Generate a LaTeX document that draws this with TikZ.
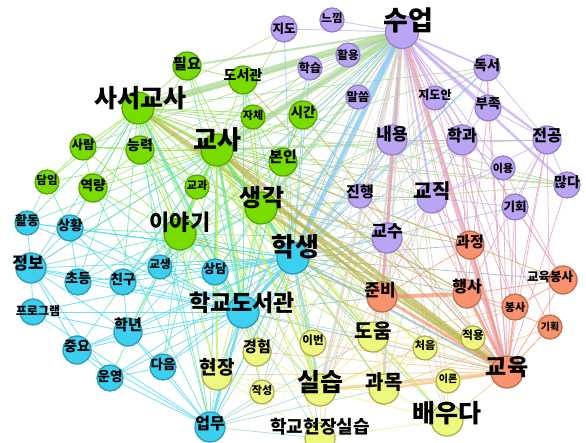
\documentclass[tikz,border=0pt]{standalone}
\usepackage{fontspec}
\setmainfont{Noto Sans CJK KR}
\pgfdeclarelayer{back}
\pgfdeclarelayer{bg}
\pgfsetlayers{back,bg,main}
\definecolor{fP}{HTML}{BBA4F2}\definecolor{bP}{HTML}{9680CC}
\definecolor{fG}{HTML}{78DC00}\definecolor{bG}{HTML}{56A800}
\definecolor{fC}{HTML}{3CCFEF}\definecolor{bC}{HTML}{2A9DB8}
\definecolor{fO}{HTML}{F7916E}\definecolor{bO}{HTML}{C0704E}
\definecolor{fY}{HTML}{EEF77E}\definecolor{bY}{HTML}{B0B052}
\definecolor{cPP}{HTML}{C3A6F5}
\definecolor{cPG}{HTML}{A9D890}
\definecolor{cPC}{HTML}{86C9F2}
\definecolor{cPO}{HTML}{E3A1B9}
\definecolor{cPY}{HTML}{D8D2BE}
\definecolor{cGG}{HTML}{8CE33A}
\definecolor{cGC}{HTML}{62E2AA}
\definecolor{cCC}{HTML}{3FD6F6}
\definecolor{cGY}{HTML}{C2EE4A}
\definecolor{cGO}{HTML}{B9B54A}
\definecolor{cOY}{HTML}{F7C58A}
\definecolor{cOC}{HTML}{86B8B6}
\definecolor{cCY}{HTML}{96DCC4}
\definecolor{cOO}{HTML}{F7906E}
\definecolor{cYY}{HTML}{EEF27E}
\tikzset{
  nodebase/.style={circle,inner sep=0pt,line width=1.3pt},
  P/.style={fill=fP,draw=bP}, G/.style={fill=fG,draw=bG},
  C/.style={fill=fC,draw=bC}, O/.style={fill=fO,draw=bO},
  Y/.style={fill=fY,draw=bY},
  lab/.style={inner sep=0pt,text=black},
  e/.style={line width=0.8pt,draw opacity=0.75},
  PP/.style={e,draw=cPP}, PG/.style={e,draw=cPG}, PC/.style={e,draw=cPC},
  PO/.style={e,draw=cPO}, PY/.style={e,draw=cPY}, GG/.style={e,draw=cGG},
  GC/.style={e,draw=cGC}, CC/.style={e,draw=cCC}, GY/.style={e,draw=cGY},
  GO/.style={e,draw=cGO}, OY/.style={e,draw=cOY}, OC/.style={e,draw=cOC},
  CY/.style={e,draw=cCY}, OO/.style={e,draw=cOO}, YY/.style={e,draw=cYY}
}
\newcommand\nd[8]{%
  \node[nodebase,#6,minimum size=#4pt] (#1) at (#2,#3) {};
  \node[lab,font=\fontsize{#5}{#5}\selectfont\bfseries] (#1-t) at ([shift={(#7)}]#1.center) {#8};}
\newcommand\E[3]{\foreach \t in {#3}{\draw[#1] (#2) -- (\t);}}
\begin{document}
\begin{tikzpicture}[x=1pt,y=-1pt]
\begin{pgfonlayer}{back}
\fill[white] (0,0) rectangle (586,443);
\end{pgfonlayer}
\useasboundingbox (0,0) rectangle (586,443);
% purple
\nd{sueop}{402}{32}{33}{27}{P}{6,-12}{수업}
\nd{neukkim}{332}{20}{24}{11.5}{P}{0,-2}{느낌}
\nd{jido}{284}{29}{26}{12.5}{P}{0,0}{지도}
\nd{hwalyong}{348}{55}{24}{11.5}{P}{0,0}{활용}
\nd{hakseup}{310}{68}{24}{12}{P}{0,0}{학습}
\nd{malsseum}{358}{97}{24}{12}{P}{0,0}{말씀}
\nd{jidoan}{435}{98}{24}{12}{P}{0,-3}{지도안}
\nd{dokseo}{487}{68}{26}{14}{P}{0,-3}{독서}
\nd{bujok}{488}{108}{26}{13.5}{P}{0,-4}{부족}
\nd{naeyong}{392}{140}{30}{17}{P}{0,-6}{내용}
\nd{hakgwa}{462}{140}{30}{16}{P}{0,-5}{학과}
\nd{jeongong}{547}{140}{28}{16}{P}{0,-4}{전공}
\nd{iyong}{503}{168}{24}{11}{P}{0,0}{이용}
\nd{manta}{567}{185}{26}{14}{P}{0,-3}{많다}
\nd{gihoe}{515}{207}{26}{12.5}{P}{0,0}{기회}
\nd{gyojik}{432}{198}{30}{20}{P}{0,-7}{교직}
\nd{jinhaeng}{360}{196}{24}{15}{P}{0,-4}{진행}
\nd{gyosu}{387}{238}{30}{17}{P}{0,-7}{교수}
% orange
\nd{gwajeong}{470}{245}{28}{15}{O}{0,-3}{과정}
\nd{haengsa}{467}{294}{28}{16}{O}{0,-7}{행사}
\nd{gyoyukbongsa}{563}{280}{28}{12.5}{O}{-13,-3}{교육봉사}
\nd{bongsa}{515}{307}{26}{11}{O}{0,0}{봉사}
\nd{gihoek}{550}{327}{24}{10}{O}{0,0}{기획}
\nd{junbi}{382}{297}{30}{17}{O}{-2,-7}{준비}
\nd{gyoyuk}{507}{372}{32}{23}{O}{0,-5}{교육}
% yellow
\nd{doum}{373}{337}{30}{20}{Y}{0,-6}{도움}
\nd{ibeon}{313}{343}{26}{11.5}{Y}{0,-3}{이번}
\nd{cheoeum}{425}{348}{24}{11}{Y}{0,-3}{처음}
\nd{jeogyong}{473}{338}{24}{11.5}{Y}{0,-3}{적용}
\nd{iron}{448}{381}{24}{10}{Y}{0,-2}{이론}
\nd{silseup}{320}{390}{32}{25}{Y}{0,-8}{실습}
\nd{gwamok}{384}{389}{30}{20}{Y}{0,-7}{과목}
\nd{baeuda}{447}{420}{32}{25}{Y}{0,-7}{배우다}
\nd{hjs}{320}{438}{30}{18}{Y}{0,-11}{학교현장실습}
\nd{gyeongheom}{257}{352}{28}{15}{Y}{0,-5}{경험}
\nd{hyeonjang}{217}{375}{30}{19}{Y}{0,-8}{현장}
\nd{jakseong}{262}{392}{24}{11}{Y}{0,-2}{작성}
% cyan
\nd{haksaeng}{293}{258}{32}{26}{C}{2,-11}{학생}
\nd{hakdo}{243}{312}{32}{23}{C}{-1,-9}{학교도서관}
\nd{sangdam}{215}{272}{26}{12.5}{C}{0,-3}{상담}
\nd{gyosaeng}{160}{267}{24}{11.5}{C}{0,-3}{교생}
\nd{hwaldong}{27}{223}{24}{13}{C}{0,-2}{활동}
\nd{sanghwang}{70}{228}{26}{13.5}{C}{0,-3}{상황}
\nd{jeongbo}{31}{268}{30}{17}{C}{-3,-5}{정보}
\nd{chodeung}{78}{282}{26}{13.5}{C}{0,-3}{초등}
\nd{chingu}{123}{282}{26}{13.5}{C}{0,-3}{친구}
\nd{program}{33}{312}{26}{12}{C}{5,-1}{프로그램}
\nd{haknyeon}{128}{332}{28}{15}{C}{0,-7}{학년}
\nd{jungyo}{77}{350}{28}{14}{C}{0,-3}{중요}
\nd{unyeong}{110}{378}{26}{13.5}{C}{0,-2}{운영}
\nd{daeum}{163}{367}{26}{13.5}{C}{0,-3}{다음}
\nd{eopmu}{210}{427}{30}{16}{C}{0,-3}{업무}
% green
\nd{pilyo}{187}{66}{28}{15}{G}{0,-2}{필요}
\nd{doseogwan}{243}{80}{28}{14}{G}{0,-5}{도서관}
\nd{saseo}{138}{108}{32}{25}{G}{2,-10}{사서교사}
\nd{gyosa}{217}{150}{32}{26}{G}{0,-10}{교사}
\nd{jache}{253}{117}{24}{11}{G}{0,-2}{자체}
\nd{sigan}{303}{115}{28}{13.5}{G}{0,-3}{시간}
\nd{bonin}{283}{162}{28}{15}{G}{0,-5}{본인}
\nd{gyogwa}{197}{187}{24}{11}{G}{0,-2}{교과}
\nd{saenggak}{261}{208}{32}{24}{G}{1,-10}{생각}
\nd{iyagi}{180}{234}{32}{22}{G}{0,-12}{이야기}
\nd{saram}{83}{147}{26}{12.5}{G}{0,-2}{사람}
\nd{neungnyeok}{140}{150}{28}{14}{G}{0,-5}{능력}
\nd{damim}{47}{182}{24}{11.5}{G}{0,-2}{담임}
\nd{yeongnyang}{93}{188}{28}{13.5}{G}{0,-3}{역량}
\begin{pgfonlayer}{bg}
% sueop
\E{PP}{sueop}{neukkim,jido,hwalyong,hakseup,malsseum,jidoan,iyong,gihoe,jinhaeng,gyosu}
\E{PG}{sueop}{doseogwan,sigan,bonin,iyagi,jache,neungnyeok,saram,yeongnyang,gyogwa}
\E{PC}{sueop}{sangdam,jeongbo,eopmu,haknyeon,chingu,gyosaeng}
\E{PO}{sueop}{haengsa,gwajeong,bongsa,gyoyukbongsa,gihoek}
\E{PY}{sueop}{baeuda,hyeonjang,gyeongheom,ibeon,cheoeum,jeogyong,iron,hjs,jakseong}
% gyosa
\E{GG}{gyosa}{pilyo,doseogwan,jache,sigan,bonin,gyogwa,neungnyeok,saram,yeongnyang,damim}
\E{GC}{gyosa}{sangdam,gyosaeng,jeongbo,sanghwang,chingu,chodeung,haknyeon,jungyo,eopmu,daeum,unyeong,hwaldong}
\E{GO}{gyosa}{haengsa,gwajeong,gyoyukbongsa}
\E{GY}{gyosa}{doum,gwamok,gyeongheom,baeuda,hjs,ibeon,jakseong,cheoeum}
\E{PG}{gyosa}{naeyong,gyojik,gyosu,hakgwa,jeongong,jinhaeng,manta,jido,hakseup,malsseum,dokseo}
% saseo
\E{GG}{saseo}{pilyo,doseogwan,saram,neungnyeok,yeongnyang,damim,jache,sigan,bonin,saenggak,iyagi,gyogwa}
\E{GC}{saseo}{haksaeng,sanghwang,hwaldong,jeongbo,eopmu,chodeung,chingu,sangdam,gyosaeng}
\E{GO}{saseo}{junbi,haengsa}
\E{GY}{saseo}{hyeonjang,silseup,gyeongheom,doum}
\E{PG}{saseo}{gyojik,naeyong,manta,jinhaeng,jido,dokseo}
% saenggak
\E{GG}{saenggak}{iyagi,bonin,sigan,jache,gyogwa,neungnyeok,pilyo,doseogwan}
\E{GC}{saenggak}{hakdo,sangdam,chingu,gyosaeng,eopmu}
\E{GO}{saenggak}{junbi,haengsa,gwajeong}
\E{GY}{saenggak}{doum,gwamok,hyeonjang,baeuda,gyeongheom,ibeon,cheoeum}
\E{PG}{saenggak}{naeyong,gyojik,gyosu,hakgwa,manta,malsseum}
% iyagi
\E{GG}{iyagi}{neungnyeok,yeongnyang,saram,gyogwa,bonin}
\E{GC}{iyagi}{haksaeng,hakdo,sangdam,gyosaeng,chingu,chodeung,sanghwang,jeongbo,haknyeon,daeum,eopmu}
\E{GY}{iyagi}{silseup,hyeonjang,gyeongheom,doum}
\E{GO}{iyagi}{gyoyuk,junbi}
\E{PG}{iyagi}{gyosu,naeyong}
% other green
\E{GG}{bonin}{sigan,jache}
\E{GC}{bonin}{haksaeng,hakdo}
\E{GY}{bonin}{silseup,doum}
\E{GO}{bonin}{gyoyuk}
\E{GG}{neungnyeok}{saram,yeongnyang,pilyo}
\E{GC}{neungnyeok}{hakdo,eopmu,haksaeng}
\E{GG}{saram}{damim,yeongnyang}
\E{GC}{yeongnyang}{sanghwang,hakdo,eopmu}
\E{GC}{damim}{hwaldong,sanghwang}
\E{GG}{pilyo}{doseogwan}
\E{GC}{doseogwan}{hakdo,haksaeng}
\E{GO}{doseogwan}{gyoyuk}
\E{GC}{sigan}{haksaeng}
\E{GO}{sigan}{gyoyuk}
\E{PG}{manta}{bonin,sigan}
% haksaeng
\E{CC}{haksaeng}{sangdam,gyosaeng,chingu,chodeung,jeongbo,haknyeon,eopmu,daeum,unyeong,jungyo,sanghwang,hwaldong,program}
\E{CY}{haksaeng}{hyeonjang,doum,gwamok,gyeongheom,ibeon,baeuda,hjs,jakseong}
\E{OC}{haksaeng}{junbi,haengsa,gwajeong,gyoyukbongsa}
\E{PC}{haksaeng}{naeyong,gyosu,gyojik,jinhaeng,hakgwa,malsseum,hakseup,jido,dokseo,jidoan,gihoe}
% hakdo
\E{CC}{hakdo}{jeongbo,program,haknyeon,jungyo,unyeong,daeum,sanghwang,hwaldong,chingu,chodeung,sangdam,gyosaeng}
\E{CY}{hakdo}{gyeongheom,silseup,jakseong,doum,hjs}
\E{GC}{hakdo}{pilyo}
\E{PC}{hakdo}{gyojik,naeyong,gyosu,hakseup,dokseo}
\E{OC}{hakdo}{gyoyuk,junbi}
% cyan others
\E{CC}{eopmu}{unyeong,daeum,jungyo,haknyeon,program}
\E{CY}{eopmu}{hyeonjang,gyeongheom,jakseong,silseup,hjs,doum,gwamok}
\E{CC}{jeongbo}{hwaldong,sanghwang,program,chodeung,chingu,jungyo,haknyeon,unyeong}
\E{CC}{sanghwang}{hwaldong,chodeung,chingu}
\E{CC}{haknyeon}{jungyo,chingu,daeum,program}
\E{CC}{unyeong}{daeum,jungyo}
% gyoyuk and orange
\E{OO}{gyoyuk}{gihoek,gyoyukbongsa}
\E{PO}{gyoyuk}{jeongong,naeyong,gyosu,jidoan,dokseo,bujok,iyong,gihoe,manta,jinhaeng}
\E{OY}{gyoyuk}{doum,jeogyong,cheoeum,baeuda,hyeonjang,ibeon,gyeongheom}
\E{OO}{junbi}{gwajeong}
\E{PO}{junbi}{gyojik,naeyong,gyosu}
\E{OY}{junbi}{doum,gwamok,silseup}
\E{OO}{haengsa}{bongsa,gyoyukbongsa,gihoek}
\E{PO}{haengsa}{hakgwa,jeongong,bujok}
\E{PO}{gyoyukbongsa}{gihoe,iyong}
\E{OY}{bongsa}{silseup,doum}
\E{OO}{bongsa}{gyoyukbongsa}
\E{PO}{bongsa}{jeongong,iyong,gihoe,hakgwa}
\E{PO}{gihoek}{jeongong}
\E{OY}{gihoek}{gwamok}
\E{PO}{gwajeong}{gyojik,hakgwa}
% purple others
\E{PP}{gyojik}{naeyong,hakgwa,jeongong,gihoe,iyong,gyosu,jinhaeng}
\E{PY}{gyojik}{silseup,doum,gwamok}
\E{PY}{naeyong}{silseup,gwamok,doum,baeuda}
\E{PP}{naeyong}{hakgwa,gyosu,jinhaeng}
\E{PP}{hakgwa}{jeongong,dokseo,bujok,iyong}
\E{PP}{jeongong}{dokseo,bujok,manta,gihoe}
\E{PY}{jeongong}{gwamok}
\E{PY}{gyosu}{silseup,doum,gwamok,baeuda,gyeongheom}
\E{PY}{jidoan}{silseup,doum,jakseong}
\E{PP}{dokseo}{bujok,jidoan}
% yellow
\E{YY}{silseup}{hjs,gwamok,doum,baeuda,iron,hyeonjang,gyeongheom,ibeon,jakseong,cheoeum,jeogyong}
\E{YY}{gwamok}{doum,baeuda,iron,cheoeum}
\E{YY}{doum}{ibeon,cheoeum,jeogyong}
\E{YY}{hyeonjang}{gyeongheom,jakseong,hjs}
\E{YY}{baeuda}{iron,hjs}
% thick edges
\foreach \a/\b/\w/\s in {
  sueop/saseo/7/PG, sueop/gyosa/6/PG, sueop/haksaeng/5/PC, sueop/gyoyuk/5/PO,
  sueop/junbi/3/PO, sueop/naeyong/3/PP, sueop/dokseo/2/PP, sueop/bujok/2/PP,
  sueop/jeongong/2.5/PP, sueop/manta/2.5/PP, sueop/hakgwa/2/PP, sueop/gyojik/2/PP,
  sueop/silseup/3/PY, sueop/doum/2/PY, sueop/gwamok/2/PY, sueop/hakdo/2.5/PC,
  sueop/saenggak/2/PG, sueop/pilyo/2/PG,
  saseo/gyoyuk/4/GO, gyosa/gyoyuk/4/GO, gyosa/saseo/2.5/GG, gyosa/saenggak/2.5/GG,
  gyosa/iyagi/2/GG, gyosa/haksaeng/3/GC, gyosa/hakdo/2.5/GC, gyosa/junbi/2.5/GO,
  gyosa/silseup/2/GY, gyosa/hyeonjang/2/GY, saseo/hakdo/2.5/GC,
  saenggak/haksaeng/2/GC, saenggak/gyoyuk/2.5/GO, saenggak/silseup/2/GY,
  haksaeng/hakdo/2.5/CC, haksaeng/silseup/2.5/CY, haksaeng/gyoyuk/2/OC,
  hakdo/eopmu/2.5/CC, hakdo/hyeonjang/2/CY,
  gyoyuk/junbi/3/OO, gyoyuk/haengsa/3/OO, gyoyuk/gwajeong/2/OO, gyoyuk/bongsa/2/OO,
  gyoyuk/silseup/3/OY, gyoyuk/gwamok/2.5/OY, gyoyuk/iron/2/OY,
  gyoyuk/hakgwa/1.5/PO, gyoyuk/gyojik/1.5/PO, junbi/haengsa/4/OO}
  {\draw[draw=c\s,line width=\w pt,draw opacity=0.7] (\a) -- (\b);}
\end{pgfonlayer}
\end{tikzpicture}
\end{document}
